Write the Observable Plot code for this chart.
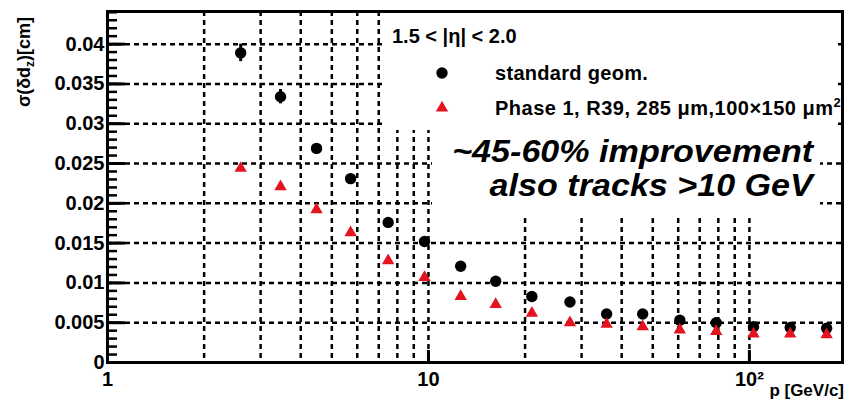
<!DOCTYPE html>
<html><head><meta charset="utf-8">
<script src="https://cdn.jsdelivr.net/npm/d3@7"></script>
<script src="https://cdn.jsdelivr.net/npm/@observablehq/plot@0.6"></script>
<style>
body{margin:0;background:#fff;}
#wrap{position:relative;width:857px;height:403px;font-family:"Liberation Sans",Arial,Helvetica,sans-serif;font-weight:bold;color:#000;overflow:hidden;}
.ov{position:absolute;white-space:nowrap;}
.box{position:absolute;background:#fff;}
</style></head><body><div id="wrap"></div>
<script>
// momentum bins [GeV/c]
const momentum = [2.6, 3.46, 4.48, 5.72, 7.49, 9.72, 12.6, 16.2, 21.0, 27.6, 35.9, 46.5, 60.7, 78.8, 103, 134, 174];
// sigma(delta d_z) [cm], standard geometry
const standard = [0.0389, 0.0334, 0.0269, 0.0231, 0.0176, 0.0152, 0.0121, 0.0102, 0.0083, 0.0076, 0.0061, 0.0061, 0.0053, 0.0050, 0.0045, 0.0044, 0.0043];
const standardErr = [0.0011, 0.0009, 0.0004, 0.0003, 0.0002, 0.0002, 0.0002, 0.0001, 0.0001, 0.0001, 0.0001, 0.0001, 0.0001, 0.0001, 0.0001, 0.0001, 0.0001];
// sigma(delta d_z) [cm], Phase 1
const phase1 = [0.0244, 0.0221, 0.0192, 0.0163, 0.0128, 0.0107, 0.0083, 0.0073, 0.0062, 0.0050, 0.0048, 0.0045, 0.0041, 0.0039, 0.0036, 0.0036, 0.0035];

const yTickValues = [0, 0.005, 0.01, 0.015, 0.02, 0.025, 0.03, 0.035, 0.04];
const yTickLabels = ["0", "0.005", "0.01", "0.015", "0.02", "0.025", "0.03", "0.035", "0.04"];
const yMinorTicks = d3.range(0, 45).map(i => i / 1000);
const xTickValues = [1, 10, 100];
const xTickLabels = ["1", "10", "10\u00B2"];
const xGridValues = [2, 3, 4, 5, 6, 7, 8, 9, 10, 20, 30, 40, 50, 60, 70, 80, 90, 100];

const legendTitle = "1.5 < |\u03B7| < 2.0";
const seriesNames = ["standard geom.", "Phase 1, R39, 285 \u03BCm,100\u00D7150 \u03BCm<sup style='font-size:13px;line-height:0'>2</sup>"];
const noteLines = ["~45-60% improvement", "also tracks >10 GeV"];
const red = "#e3131f";

const W = 857, H = 403, mT = 11, mR = 15, mB = 41, mL = 107;
const plotW = W - mL - mR, plotH = H - mT - mB;

const stdData = momentum.map((p, i) => ({p, v: standard[i], lo: standard[i] - standardErr[i], hi: standard[i] + standardErr[i]}));
const ph1Data = momentum.map((p, i) => ({p, v: phase1[i]}));
const yLab = new Map(yTickValues.map((v, i) => [v, yTickLabels[i]]));
const xLab = new Map(xTickValues.map((v, i) => [v, xTickLabels[i]]));
const gridStyle = {stroke: "black", strokeOpacity: 1, strokeWidth: 2.5, strokeDasharray: "5,4"};

const chart = Plot.plot({
  width: W, height: H,
  marginTop: mT, marginRight: mR, marginBottom: mB, marginLeft: mL,
  style: {fontFamily: "'Liberation Sans', Arial, sans-serif", fontWeight: "bold", background: "white", color: "black"},
  x: {type: "log", domain: [1, 195]},
  y: {domain: [0, 0.0441]},
  marks: [
    Plot.gridX(xGridValues, gridStyle),
    Plot.gridY(yTickValues.slice(1), gridStyle),
    Plot.axisY(yTickValues, {tickSize: 0, tickPadding: 3, tickFormat: d => yLab.get(d), fontSize: 20, label: null}),
    Plot.axisX(xTickValues, {tickSize: 0, tickPadding: 9, tickFormat: d => xLab.get(d), fontSize: 20, label: null}),
    Plot.frame({stroke: "black", strokeWidth: 3}),
    Plot.tickY(yMinorTicks, {stroke: "black", strokeWidth: 2.5, insetRight: plotW - 10}),
    Plot.tickY(yTickValues, {stroke: "black", strokeWidth: 3, insetRight: plotW - 18}),
    Plot.tickX(xTickValues.slice(1), {stroke: "black", strokeWidth: 3, insetTop: plotH - 12}),
    Plot.ruleX(stdData, {x: "p", y1: "lo", y2: "hi", stroke: "black", strokeWidth: 3}),
    Plot.dot(stdData, {x: "p", y: "v", r: 5.7, fill: "black", symbol: "circle"}),
    Plot.dot(ph1Data, {x: "p", y: "v", r: 4.6, fill: red, symbol: "triangle"})
  ]
});
const wrap = document.getElementById("wrap");
wrap.appendChild(chart);

function add(html, css, cls = "ov") {
  const d = document.createElement("div");
  d.className = cls;
  d.style.cssText = css;
  d.innerHTML = html;
  wrap.appendChild(d);
  return d;
}
// white legend panels (cover grid)
add("", "left:382px;top:13px;width:456px;height:117px;", "box");
add("", "left:432px;top:130px;width:388px;height:85px;", "box");
// legend
add(legendTitle, "left:392px;top:25px;font-size:20px;line-height:22px;");
add(`<svg width="14" height="14"><circle cx="7" cy="7" r="5.7" fill="black"/></svg>`, "left:435px;top:66px;line-height:0;");
add(seriesNames[0], "left:495px;top:62px;font-size:20px;line-height:22px;letter-spacing:0.3px;");
add(`<svg width="14" height="14"><path d="${d3.symbol(d3.symbolTriangle, Math.PI * 4.6 * 4.6)()}" transform="translate(7,7)" fill="${red}"/></svg>`, "left:435px;top:101px;line-height:0;");
add(seriesNames[1], "left:495px;top:97px;font-size:20px;line-height:22px;letter-spacing:0.5px;");
// annotation
add(noteLines[0], "right:44px;top:135px;font-size:31px;line-height:34px;font-style:italic;transform:scaleX(1.1);transform-origin:right center;");
add(noteLines[1], "right:44px;top:169px;font-size:31px;line-height:34px;font-style:italic;transform:scaleX(1.1);transform-origin:right center;");
// axis titles
add("\u03C3(\u03B4d<sub style='font-size:12px'>z</sub>)[cm]", "left:27px;top:62px;font-size:18px;line-height:20px;transform:translate(-50%,-50%) rotate(-90deg);");
add("p [GeV/c]", "right:13px;top:381px;font-size:17px;line-height:20px;");
</script>
</body></html>
